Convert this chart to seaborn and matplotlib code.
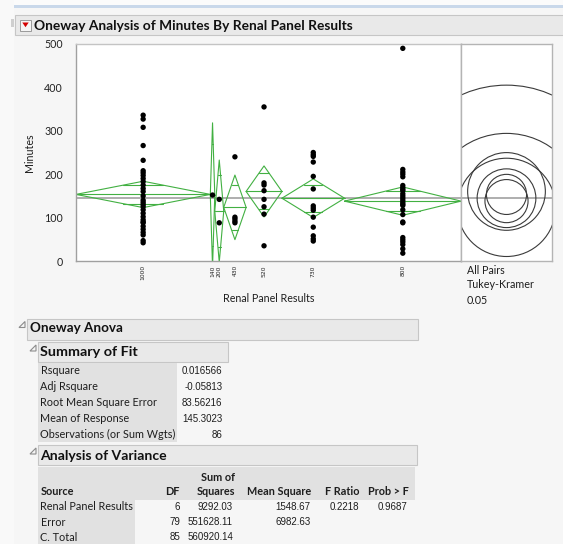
import numpy as np
import pandas as pd
import matplotlib
matplotlib.use("Agg")
import matplotlib.pyplot as plt
from matplotlib.patches import Rectangle, Circle, Polygon
import seaborn as sns

# ---------------- data ----------------
categories = ["1000", "140", "200", "430", "520", "730", "800"]
minutes_1000 = [336, 327, 308, 266, 232, 208, 203, 197, 190, 183, 175, 167, 160, 150, 140,
                135, 130, 125, 118, 110, 102, 95, 90, 88, 80, 73, 66, 60, 47, 42]
minutes_140 = [152]
minutes_200 = [142, 88]
minutes_430 = [240, 101, 97, 92, 88]
minutes_520 = [355, 180, 175, 162, 142, 125, 108, 35]
minutes_730 = [250, 245, 241, 228, 195, 166, 127, 122, 117, 101, 78, 58, 51, 46]
minutes_800 = [490, 211, 205, 200, 194, 174, 169, 165, 162, 155, 150, 145, 140, 135, 131,
               128, 118, 107, 90, 88, 54, 49, 44, 38, 28, 18]
groups = [minutes_1000, minutes_140, minutes_200, minutes_430, minutes_520, minutes_730, minutes_800]

y_ticks = [0, 100, 200, 300, 400, 500]
y_minor = [50, 150, 250, 350, 450]

fit_labels = ["Rsquare", "Adj Rsquare", "Root Mean Square Error", "Mean of Response",
              "Observations (or Sum Wgts)"]
fit_values = ["0.016566", "-0.05813", "83.56216", "145.3023", "86"]

anova_cols = ["Source", "DF", "Squares", "Mean Square", "F Ratio", "Prob > F"]
anova_source = ["Renal Panel Results", "Error", "C. Total"]
anova_dof = ["6", "79", "85"]
anova_ss = ["9292.03", "551628.11", "560920.14"]
anova_ms = ["1548.67", "6982.63", ""]
anova_f = ["0.2218", "", ""]
anova_p = ["0.9687", "", ""]

rmse = 83.56216      # Root Mean Square Error (pooled)
t_crit = 1.99045     # t(0.975, 79) for the means diamonds
q_star = 3.03        # Tukey-Kramer q* for comparison circles
alpha_text = "0.05"

# ---------------- long table ----------------
rows = []
start = 0
for cat, vals in zip(categories, groups):
    n = len(vals)
    for v in vals:
        rows.append((cat, v, start + n / 2.0, start, start + n))
    start += n
df = pd.DataFrame(rows, columns=["Renal Panel Results", "Minutes", "xpos", "x0", "x1"])
total_n = start

# ---------------- figure ----------------
sns.set_style("white")
plt.rcParams["font.family"] = ["Lato", "DejaVu Sans"]
W, H = 563, 544
fig = plt.figure(figsize=(W / 100, H / 100), dpi=100)
fig.patch.set_facecolor("#f6f6f6")

bg = fig.add_axes([0, 0, 1, 1], zorder=-5)
bg.set_xlim(0, W)
bg.set_ylim(H, 0)
bg.axis("off")

renderer = fig.canvas.get_renderer()
NUM_FAMILY = ["Liberation Sans", "DejaVu Sans"]


def fit(t, w):
    bb = t.get_window_extent(renderer=renderer)
    t.set_fontsize(t.get_fontsize() * w / bb.width)
    return t.get_fontsize()


def rect(x0, y0, x1, y1, fc, ec="none", lw=1.0):
    bg.add_patch(Rectangle((x0, y0), x1 - x0, y1 - y0, facecolor=fc, edgecolor=ec, lw=lw))


def txt(x, y, s, size=7.0, bold=False, ha="left", color="#1e1e1e", family=None):
    kw = {}
    if family is not None:
        kw["family"] = family
    return bg.text(x, y, s, ha=ha, va="center", fontsize=size,
                   fontweight="bold" if bold else "normal", color=color, **kw)


def disclosure(x, y):
    bg.add_patch(Polygon([(x, y + 6), (x + 6, y + 6), (x + 6, y)], closed=True,
                         facecolor="none", edgecolor="#8c8c8c", lw=0.8))


# top strip
rect(0, 0, W, 4.5, "#fbfbfb")
rect(14, 4.5, W, 7.5, "#c9d8ea")
rect(0, 0, 14, H, "#f9f9f9")

# title bar
rect(15, 15, W + 2, 35, "#e9e9e9", "#c6c6c6", 0.8)
rect(11, 19, 13.5, 27, "#cfcfcf")
rect(20, 19.5, 31, 30.5, "#f5f5f5", "#9a9a9a", 0.7)
bg.add_patch(Polygon([(22.3, 22.5), (28.7, 22.5), (25.5, 27.2)], closed=True,
                     facecolor="#d40000", edgecolor="none"))
t_title = txt(34, 25.8, "Oneway Analysis of Minutes By Renal Panel Results", 10, bold=True, color="#111111")
fit(t_title, 320)

# ---------------- main plot ----------------
px0, px1, py0, py1 = 76, 461, 44, 261
ax = fig.add_axes([px0 / W, 1 - py1 / H, (px1 - px0) / W, (py1 - py0) / H])
ax.set_facecolor("white")
grand_mean = df["Minutes"].mean()
ax.axhline(grand_mean, color="#a8a8a8", lw=1.3, zorder=1)

green = "#42b042"
kk = 1 / np.sqrt(2)
for cat, g in df.groupby("Renal Panel Results", sort=False):
    n = len(g)
    m = g["Minutes"].mean()
    a = g["x0"].iloc[0]
    b = g["x1"].iloc[0]
    c = (a + b) / 2
    h = t_crit * rmse / np.sqrt(n)
    ax.plot([a, c, b, c, a], [m, m + h, m, m - h, m], color=green, lw=0.8, zorder=2)
    ax.plot([a, b], [m, m], color=green, lw=0.8, zorder=2)
    half = (b - a) / 2 * (1 - kk)
    for sgn in (1, -1):
        ax.plot([c - half, c + half], [m + sgn * h * kk] * 2, color=green, lw=0.8, zorder=2)

sns.scatterplot(data=df, x="xpos", y="Minutes", color="black", s=15, edgecolor="none",
                ax=ax, legend=False, zorder=3)

ax.set_xlim(0, total_n)
ax.set_ylim(0, 500)
centers = df.groupby("Renal Panel Results", sort=False)["xpos"].first().values
bounds = [0] + list(np.cumsum([len(gr) for gr in groups]))
ax.set_xticks(centers)
ax.set_xticklabels(categories, rotation=90, fontsize=4.3, family="DejaVu Sans")
ax.set_xticks(bounds, minor=True)
ax.tick_params(axis="x", which="major", length=0, pad=3, labelcolor="#222222")
ax.tick_params(axis="x", which="minor", length=4, width=0.8, color="#a0a0a0")
ax.set_yticks(y_ticks)
ax.set_yticks(y_minor, minor=True)
ax.tick_params(axis="y", which="major", length=8, width=0.8, color="#a0a0a0", pad=1.5,
               labelcolor="#222222")
ax.tick_params(axis="y", which="minor", length=4, width=0.8, color="#a0a0a0")
for sp in ["left", "bottom", "right"]:
    ax.spines[sp].set_color("#a0a0a0")
    ax.spines[sp].set_linewidth(1.0)
ax.spines["top"].set_color("#c4c4c4")
ax.spines["top"].set_linewidth(1.0)

ax.set_xlabel("Renal Panel Results", color="#1e1e1e")
ax.set_ylabel("Minutes", color="#1e1e1e")
ax.xaxis.label.set_fontsize(7)
axis_fs = fit(ax.xaxis.label, 91)
ax.xaxis.set_label_coords(0.5, -(298 - py1) / (py1 - py0))
ax.xaxis.label.set_va("center")
ax.yaxis.label.set_fontsize(axis_fs)
ax.yaxis.set_label_coords(-(px0 - 29) / (px1 - px0), 0.5)
ax.yaxis.label.set_va("center")
for lab in ax.get_yticklabels():
    lab.set_fontsize(axis_fs)

# ---------------- comparison circles panel ----------------
cx0, cx1 = 461, 552
ax2 = fig.add_axes([cx0 / W, 1 - py1 / H, (cx1 - cx0) / W, (py1 - py0) / H])
ax2.set_facecolor("white")
half_w = 500 * (cx1 - cx0) / (py1 - py0) / 2
ax2.set_xlim(-half_w, half_w)
ax2.set_ylim(0, 500)
ax2.axhline(grand_mean, color="#a8a8a8", lw=1.3, zorder=1)
for cat, g in df.groupby("Renal Panel Results", sort=False):
    n = len(g)
    r = q_star * rmse / np.sqrt(n)
    ax2.add_patch(Circle((0, g["Minutes"].mean()), r, facecolor="none",
                         edgecolor="#3a3a3a", lw=0.8, zorder=2))
ax2.set_xticks([])
ax2.set_yticks([])
for sp in ax2.spines.values():
    sp.set_color("#b4b4b4")
    sp.set_linewidth(1.0)

t = txt(467, 270, "All Pairs", axis_fs)
t = txt(467, 285, "Tukey-Kramer", axis_fs)
fit(t, 68.5)
txt(467, 300.5, alpha_text, t.get_fontsize())

# ---------------- Oneway Anova ----------------
disclosure(19, 321.5)
rect(27, 319, 418, 340, "#e9e9e9", "#c6c6c6", 0.8)
t = txt(30.5, 328.5, "Oneway Anova", 9, bold=True, color="#111111")
head_fs = fit(t, 93)

disclosure(30, 345)
rect(37.5, 342, 228, 362, "#e9e9e9", "#c6c6c6", 0.8)
t = txt(40.5, 352.5, "Summary of Fit", head_fs, bold=True, color="#111111")
fit(t, 97.5)

rect(38, 363, 177, 442, "#e1e1e1")
t = txt(40.5, 371, fit_labels[-1], 7)
tab_fs = fit(t, 134)
t.remove()
t = txt(40.5, 371, anova_ss[1], 7, family=NUM_FAMILY)
num_fs = fit(t, 45)
t.remove()
for i, (lab, val) in enumerate(zip(fit_labels, fit_values)):
    y = 371 + i * 15.9
    txt(40.5, y, lab, tab_fs)
    txt(222.5, y, val, num_fs, ha="right", family=NUM_FAMILY)

# ---------------- Analysis of Variance ----------------
disclosure(30, 448)
rect(37.5, 445, 417, 465, "#e9e9e9", "#c6c6c6", 0.8)
t = txt(40.5, 455.5, "Analysis of Variance", head_fs, bold=True, color="#111111")
fit(t, 126)

rect(38, 467, 415, 500, "#e1e1e1")
rect(38, 500, 135, H + 2, "#e1e1e1")
col_right = [None, 180, 235, 311, 359.5, 409]
val_right = [None, 180, 233, 310.7, 359, 407]
txt(235, 477.7, "Sum of", tab_fs, bold=True, ha="right")
for j, name in enumerate(anova_cols):
    if j == 0:
        txt(40.5, 491.7, name, tab_fs, bold=True)
    else:
        txt(col_right[j], 491.7, name, tab_fs, bold=True, ha="right")
for i in range(3):
    y = 506.7 + i * 15.3
    txt(40.5, y, anova_source[i], tab_fs)
    for j, col in enumerate([anova_dof, anova_ss, anova_ms, anova_f, anova_p], start=1):
        if col[i]:
            txt(val_right[j], y, col[i], num_fs, ha="right", family=NUM_FAMILY)

fig.savefig("out.png", dpi=100, facecolor=fig.get_facecolor())
